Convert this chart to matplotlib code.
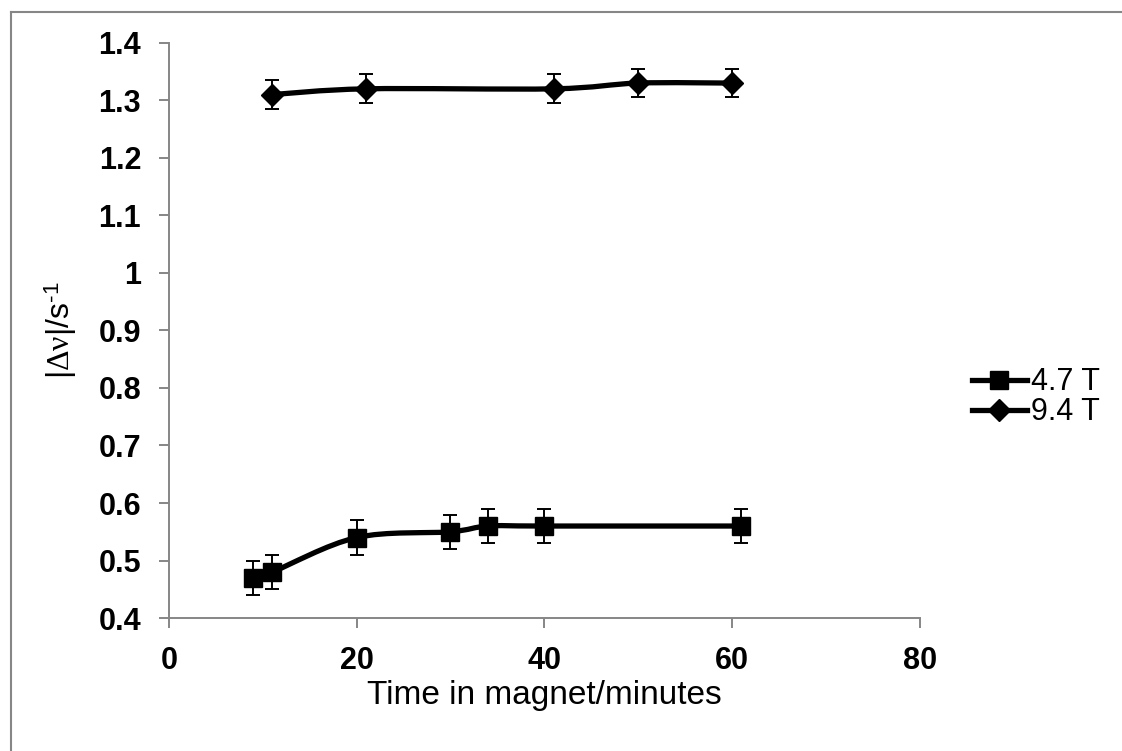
import numpy as np
import matplotlib.pyplot as plt
from matplotlib.path import Path
from matplotlib.patches import PathPatch
from matplotlib.lines import Line2D

plt.rcParams['font.family'] = ['Liberation Sans', 'DejaVu Sans']
plt.rcParams['mathtext.fontset'] = 'custom'
plt.rcParams['mathtext.rm'] = 'Liberation Serif'
plt.rcParams['mathtext.it'] = 'Liberation Serif'
plt.rcParams['mathtext.sf'] = 'Liberation Sans'

# Данные
t_47 = [9, 11, 20, 30, 34, 40, 61]
dv_47 = [0.47, 0.48, 0.54, 0.55, 0.56, 0.56, 0.56]
err_47 = [0.03, 0.03, 0.03, 0.03, 0.03, 0.03, 0.03]

t_94 = [11, 21, 41, 50, 60]
dv_94 = [1.31, 1.32, 1.32, 1.33, 1.33]
err_94 = [0.025, 0.025, 0.025, 0.025, 0.025]

labels = ['4.7 T', '9.4 T']
x_ticks = [0, 20, 40, 60, 80]
y_ticks = [0.4, 0.5, 0.6, 0.7, 0.8, 0.9, 1.0, 1.1, 1.2, 1.3, 1.4]
y_ticklabels = ['0.4', '0.5', '0.6', '0.7', '0.8', '0.9', '1', '1.1', '1.2', '1.3', '1.4']


def smooth_line(ax, xs, ys, **kw):
    # сглаженная линия как в Excel (Catmull-Rom в экранных координатах)
    tr = ax.transData
    pts = tr.transform(np.column_stack([xs, ys]))
    n = len(pts)
    verts = [pts[0]]
    codes = [Path.MOVETO]
    for i in range(n - 1):
        p0 = pts[i - 1] if i > 0 else pts[i]
        p1 = pts[i]
        p2 = pts[i + 1]
        p3 = pts[i + 2] if i + 2 < n else pts[i + 1]
        c1 = p1 + (p2 - p0) / 6.0
        c2 = p2 - (p3 - p1) / 6.0
        verts += [c1, c2, p2]
        codes += [Path.CURVE4] * 3
    verts = tr.inverted().transform(np.array(verts))
    patch = PathPatch(Path(verts, codes), fill=False, **kw)
    ax.add_patch(patch)


fig = plt.figure(figsize=(11.22, 7.51), dpi=100)
ax = fig.add_axes([0.1506, 0.177, 0.669, 0.766])
ax.set_xlim(0, 80)
ax.set_ylim(0.4, 1.4)

for xs, ys, es, m, ms in [(t_47, dv_47, err_47, 's', 13), (t_94, dv_94, err_94, 'D', 11)]:
    smooth_line(ax, xs, ys, color='black', lw=3.8, capstyle='round', zorder=2)
    ax.errorbar(xs, ys, yerr=es, fmt='none', ecolor='black', elinewidth=1.4,
                capsize=5, capthick=1.4, zorder=3)
    ax.plot(xs, ys, linestyle='none', marker=m, markersize=ms, color='black', zorder=4)

ax.set_xticks(x_ticks)
ax.set_yticks(y_ticks)
ax.set_yticklabels(y_ticklabels)
for lab in ax.get_xticklabels() + ax.get_yticklabels():
    lab.set_fontweight('bold')
    lab.set_fontsize(22)
ax.tick_params(axis='both', direction='out', length=7, width=1.4, color='#868686', pad=13)
for s in ['top', 'right']:
    ax.spines[s].set_visible(False)
for s in ['left', 'bottom']:
    ax.spines[s].set_color('#868686')
    ax.spines[s].set_linewidth(1.4)

ax.set_xlabel('Time in magnet/minutes', fontsize=24, labelpad=3)
ax.set_ylabel('|$\\mathrm{\\Delta\\nu}$|/s$^{\\mathsf{\u2010}\\mathsf{1}}$', fontsize=23, labelpad=14)

handles = [Line2D([], [], color='black', lw=3.8, marker='s', markersize=13),
           Line2D([], [], color='black', lw=3.8, marker='D', markersize=11)]
fig.legend(handles, labels, loc='center left', bbox_to_anchor=(0.866, 0.471),
           frameon=False, fontsize=22, handlelength=1.8, handletextpad=0.15,
           labelspacing=0.0, borderpad=0, borderaxespad=0)

# рамка рисунка
fig.add_artist(Line2D([11 / 1122, 1], [1 - 12 / 751, 1 - 12 / 751], color='#868686', lw=1.5))
fig.add_artist(Line2D([11 / 1122, 11 / 1122], [0, 1 - 12 / 751], color='#868686', lw=1.5))

plt.savefig('out.png', dpi=100)
plt.close()
